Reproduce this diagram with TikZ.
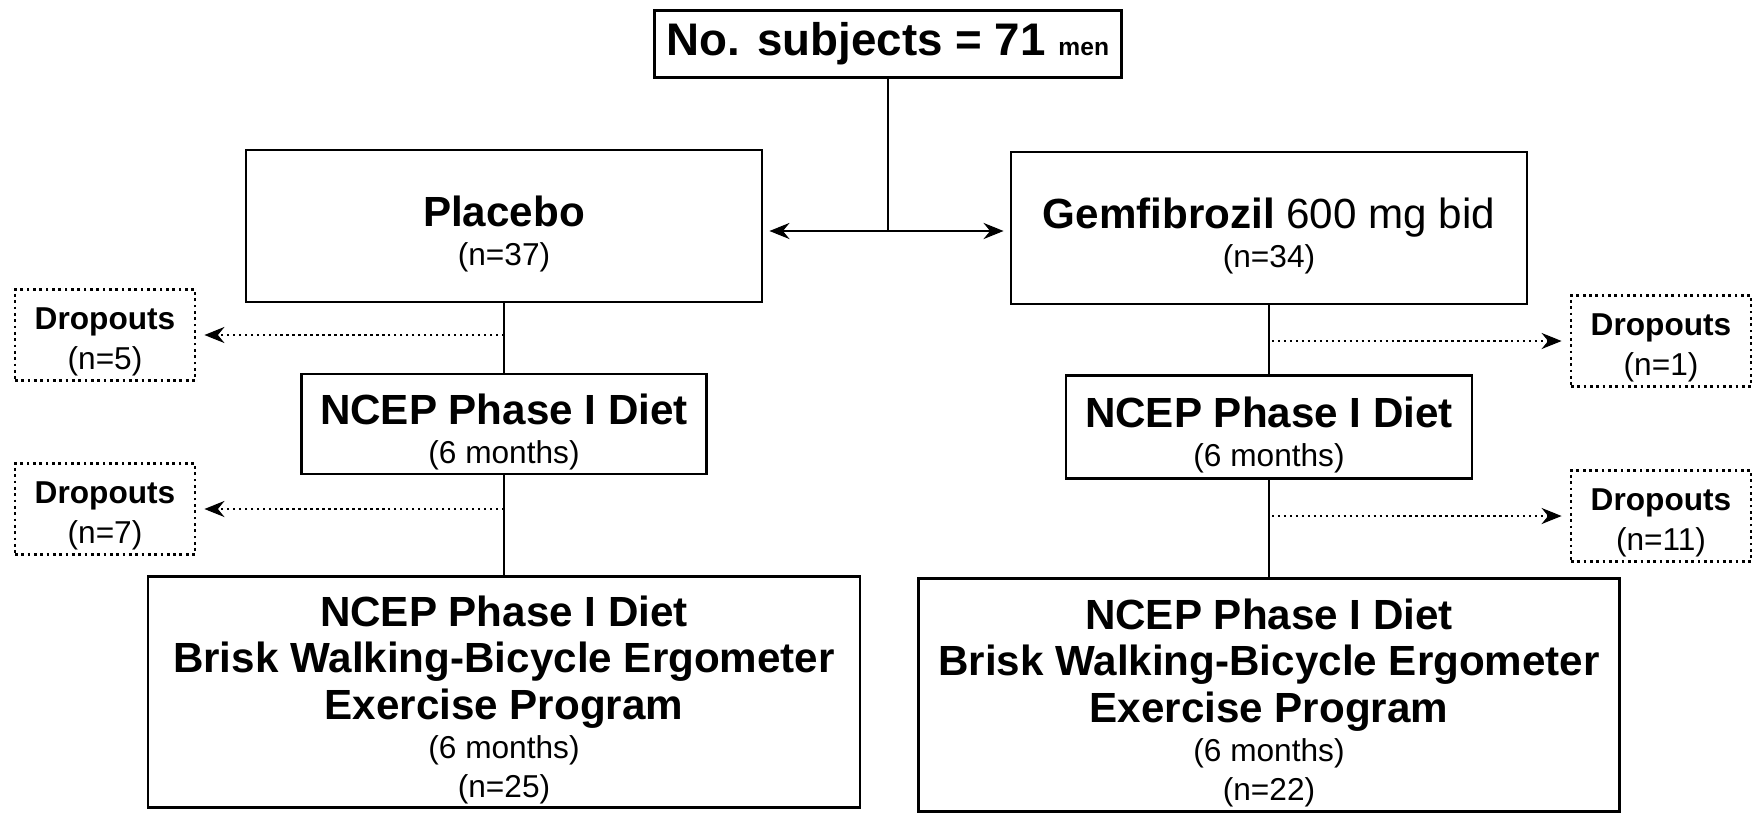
\documentclass[tikz,border=0pt]{standalone}
\usepackage{fontspec}
\setmainfont{Liberation Sans}
\usetikzlibrary{arrows.meta}

\tikzset{
  box/.style={draw,line width=0.8pt,inner sep=0pt,align=center,
    font=\fontsize{12}{13.3}\selectfont\bfseries},
  dropbox/.style={draw,densely dotted,line width=0.8pt,inner sep=0pt,align=center,
    minimum width=18mm,minimum height=9.1mm,font=\fontsize{9}{11.4}\selectfont\bfseries},
  link/.style={line width=0.8pt},
  split/.style={line width=0.8pt,shorten >=0.6mm,-{Stealth[length=2mm,width=1.6mm]}},
  droparrow/.style={densely dotted,line width=0.7pt,shorten >=0.8mm,
    -{Stealth[length=2mm,width=1.6mm]}},
}
\newcommand{\nlabel}[1]{{\fontsize{9}{10}\selectfont\mdseries #1}}
\newcommand{\lead}{\rule{0pt}{1.1em}}

\begin{document}
\begin{tikzpicture}[x=0.1mm,y=-0.1mm]
    \useasboundingbox (0,0) rectangle (1754,816);

    % randomisation
    \node[box,minimum width=46.7mm,minimum height=6.7mm] (subj) at (888,44)
        {\fontsize{13}{15}\selectfont No. subjects = 71 {\fontsize{7}{8}\selectfont men}};
    \node[box,minimum width=51.6mm,minimum height=15.2mm] (placebo) at (504,226)
        {\lead Placebo\\[-2pt] \nlabel{(n=37)}};
    \node[box,minimum width=51.6mm,minimum height=15.2mm] (gem) at (1269,228)
        {\lead Gemfibrozil {\mdseries 600 mg bid}\\[-2pt] \nlabel{(n=34)}};

    % diet only
    \node[box,minimum width=40.5mm,minimum height=10mm] (ldiet) at (504,424)
        {\lead NCEP Phase I Diet\\[-2pt] \nlabel{(6 months)}};
    \node[box,minimum width=40.6mm,minimum height=10.3mm] (rdiet) at (1269,427)
        {\lead NCEP Phase I Diet\\[-2pt] \nlabel{(6 months)}};

    % diet + exercise
    \node[box,minimum width=71.2mm,minimum height=23.1mm] (lprog) at (504,692)
        {\lead NCEP Phase I Diet\\Brisk Walking-Bicycle Ergometer\\Exercise Program\\[-2.2pt]
         \nlabel{(6 months)}\\[-2.2pt] \nlabel{(n=25)}};
    \node[box,minimum width=70.1mm,minimum height=23.3mm] (rprog) at (1269,695)
        {\lead NCEP Phase I Diet\\Brisk Walking-Bicycle Ergometer\\Exercise Program\\[-2.2pt]
         \nlabel{(6 months)}\\[-2.2pt] \nlabel{(n=22)}};

    % dropouts
    \node[dropbox] (ldrop1) at (105,335) {\lead Dropouts\\ {\mdseries (n=5)}};
    \node[dropbox] (ldrop2) at (105,509) {\lead Dropouts\\ {\mdseries (n=7)}};
    \node[dropbox] (rdrop1) at (1661,341) {\lead Dropouts\\ {\mdseries (n=1)}};
    \node[dropbox] (rdrop2) at (1661,516) {\lead Dropouts\\ {\mdseries (n=11)}};

    \coordinate (fork) at (888,231);
    \draw[link] (subj) -- (fork);
    \draw[split] (fork) -- (fork -| placebo.east);
    \draw[split] (fork) -- (fork -| gem.west);

    \draw[link] (placebo) -- (ldiet);
    \draw[link] (ldiet) -- (lprog);
    \draw[link] (gem) -- (rdiet);
    \draw[link] (rdiet) -- (rprog);

    \draw[droparrow] (ldrop1 -| placebo.south) -- (ldrop1);
    \draw[droparrow] (ldrop2 -| ldiet.south) -- (ldrop2);
    \draw[droparrow,shorten <=0.3mm] (rdrop1 -| gem.south) -- (rdrop1);
    \draw[droparrow,shorten <=0.3mm] (rdrop2 -| rdiet.south) -- (rdrop2);
\end{tikzpicture}
\end{document}
